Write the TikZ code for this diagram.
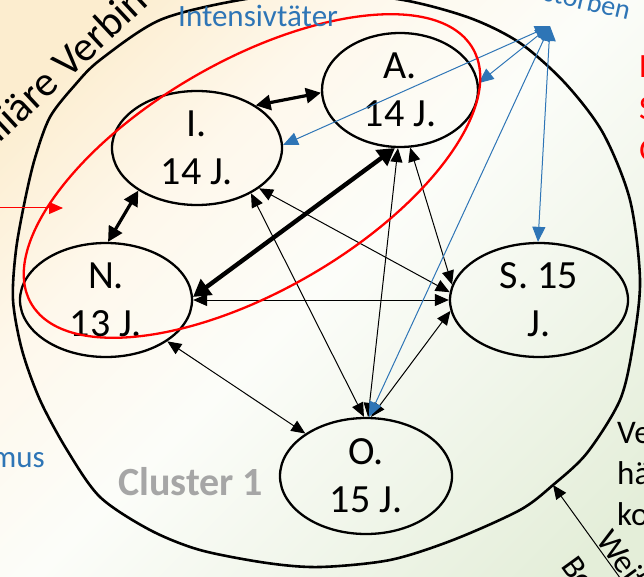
\documentclass[tikz,border=0pt]{standalone}
\usepackage{fontspec}
\setmainfont{Carlito}
\usetikzlibrary{arrows.meta,shapes.geometric}
\definecolor{pblue}{RGB}{46,117,182}
\definecolor{cgrey}{RGB}{166,166,166}
\definecolor{bgcream}{RGB}{252,237,207}
\definecolor{bglcream}{RGB}{254,248,236}
\definecolor{bgwhite}{RGB}{252,253,249}
\definecolor{bglgreen}{RGB}{241,246,235}
\definecolor{bggreen}{RGB}{228,238,217}
\pgfdeclarehorizontalshading{bgshade}{100bp}{color(0bp)=(bgcream); color(22bp)=(bgcream); color(36bp)=(bglcream); color(50bp)=(bgwhite); color(64bp)=(bglgreen); color(80bp)=(bggreen); color(100bp)=(bggreen)}
\tikzset{
  person/.style 2 args={draw=black, line width=2.3pt, ellipse, inner sep=0pt, minimum width=#1, minimum height=#2},
  ptext/.style={font=\fontsize{40}{48}\selectfont, align=center, inner sep=0pt},
  link/.style={draw=black, line width=1pt, {Triangle[length=14pt,width=12pt]}-{Triangle[length=14pt,width=12pt]}},
  tlink/.style={draw=black, line width=3.2pt, {Triangle[length=15pt,width=15pt]}-{Triangle[length=15pt,width=15pt]}},
  ttlink/.style={draw=black, line width=4.4pt, {Triangle[length=17pt,width=19pt]}-{Triangle[length=17pt,width=19pt]}},
  blink/.style={draw=pblue, line width=1pt, {Triangle[length=15pt,width=13pt]}-{Triangle[length=15pt,width=13pt]}},
  redarrow/.style={draw=red, line width=1pt, -{Triangle[length=14pt,width=12pt]}},
  onearrow/.style={draw=black, line width=1pt, -{Triangle[length=14pt,width=12pt]}},
  lbl/.style={inner sep=0pt},
}
\begin{document}
\begin{tikzpicture}[x=1pt,y=1pt]
\path[use as bounding box] (0,0) rectangle (644,-577);
\clip (0,0) rectangle (644,-577);
\shade[shading=bgshade, shading angle=-45] (-10,10) rectangle (654,-587);

% big cluster outline
\draw[line width=2.6pt] plot[smooth cycle] coordinates {
 (320,8) (403,0) (470,-18) (520,-43) (565,-83) (603,-133) (630,-200) (640,-280)
 (633,-345) (620,-400) (587,-453) (553,-485) (520,-510) (453,-540) (390,-560)
 (320,-567) (267,-563) (200,-550) (150,-530) (100,-497) (67,-450) (40,-400)
 (22,-350) (13,-300) (16,-250) (25,-200) (35,-158) (50,-117) (75,-85) (100,-60)
 (160,-20) (240,0)};

% persons
\node[person={170pt}{114pt}] (I) at (197,-148) {};
\node[person={156pt}{114pt}] (A) at (400,-90) {};
\node[person={172pt}{114pt}] (N) at (106,-300) {};
\node[person={178pt}{114pt}] (S) at (539,-300) {};
\node[person={172pt}{116pt}] (O) at (366,-476) {};
\node[ptext] (It) at (I) {I.\\14 J.};
\node[ptext] (At) at (A) {A.\\14 J.};
\node[ptext] (Nt) at (N) {N.\\13 J.};
\node[ptext] (St) at (S) {S. 15\\J.};
\node[ptext] (Ot) at (O) {O.\\15 J.};

% black links
\draw[tlink] (I.36) -- (A.182);
\draw[tlink] (I.216) -- (N.88);
\draw[ttlink] (N.2) -- (A.265);
\draw[link] (N.0) -- (S.180);
\draw[link] (I.-33) -- (S.175);
\draw[link] (I.-40) -- (O.92);
\draw[link] (A.268) -- (O.88);
\draw[link] (A.-80) -- (S.170);
\draw[link] (S.187) -- (O.85);
\draw[link] (N.-34) -- (O.145);

% blue links
\coordinate (bsrc) at (550,-26);
\draw[blink] (bsrc) -- (I.2);
\draw[blink] (bsrc) -- (A.5);
\draw[blink] (bsrc) -- (S.91);
\draw[blink] (bsrc) -- (O.87);

% red group
\node[draw=red, line width=2.3pt, ellipse, inner sep=0pt, minimum width=510pt, minimum height=230pt, rotate=30] (grp) at (252,-176) {};
\coordinate (redsrc) at (-4,-208);
\coordinate (redtip) at (63,-208);
\draw[redarrow] (redsrc) -- (redtip);

% arrow from bottom right
\coordinate (wsrc) at (623,-582);
\coordinate (wtip) at (553,-485);
\draw[onearrow] (wsrc) -- (wtip);

% texts
\node[lbl, font=\fontsize{31}{37}\selectfont, text=pblue, anchor=base west] (intens) at (178,-27) {Intensivtäter};
\node[lbl, font=\fontsize{28}{34}\selectfont, text=pblue, anchor=base east, rotate=-13] (verst) at (628,-20) {Verstorben};
\node[lbl, font=\fontsize{34}{42}\selectfont, text=red, anchor=north west, align=left] (redtxt) at (639,-55) {Enge\\Sub-\\Gruppe};
\node[lbl, font=\fontsize{31}{37}\selectfont, text=pblue, anchor=base east] (mus) at (45,-467) {Extremismus};
\node[lbl, font=\bfseries\fontsize{40}{48}\selectfont, text=cgrey, anchor=base west] (clu) at (118,-495) {Cluster 1};
\node[lbl, font=\fontsize{33}{41}\selectfont, anchor=north west, align=left] (vetx) at (617,-420) {Verbindung\\häufiger\\kontakt};
\node[lbl, font=\fontsize{33}{41}\selectfont, anchor=base west, rotate=-54] (we1) at (595,-540) {Weitere};
\node[lbl, font=\fontsize{33}{41}\selectfont, anchor=base west, rotate=-54] (we2) at (560,-566) {Bekannte};
\node[lbl, font=\fontsize{42}{50}\selectfont, anchor=base west, rotate=43] (fam2) at (68,-80) {Verbindungen};
\node[lbl, font=\fontsize{42}{50}\selectfont, anchor=base east, rotate=43] (fam1) at (61,-86.5) {Familiäre};
\end{tikzpicture}
\end{document}
